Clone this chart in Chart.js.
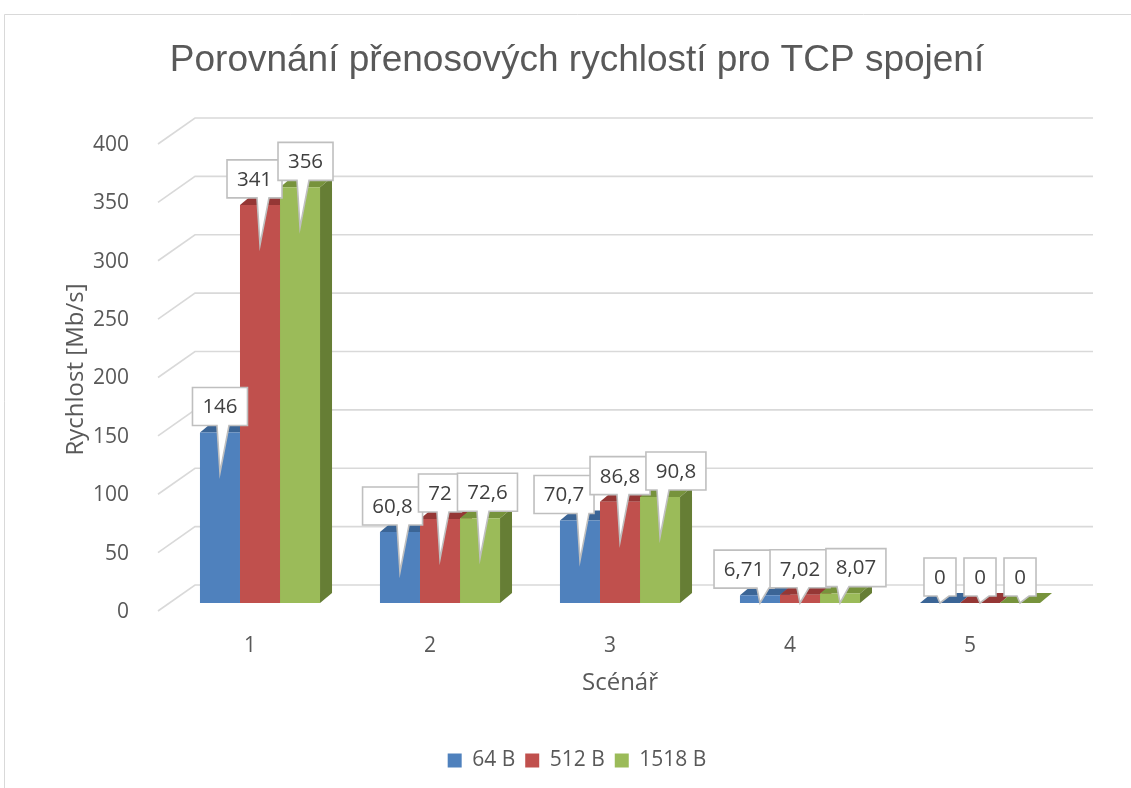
<!DOCTYPE html>
<html><head><meta charset="utf-8">
<script src="https://cdn.jsdelivr.net/npm/chart.js@4.4.1/dist/chart.umd.min.js"></script>
<style>
html,body{margin:0;padding:0;background:#fff;overflow:hidden;width:1131px;height:788px}
#wrap{position:absolute;left:4px;top:14px;width:1146px;height:774px}
</style></head><body>
<div id="wrap"><canvas id="c" width="1146" height="774"></canvas></div>
<script>
const categories = ['1', '2', '3', '4', '5'];
const seriesNames = ['64 B', '512 B', '1518 B'];
const values64 = [146, 60.8, 70.7, 6.71, 0];
const values512 = [341, 72, 86.8, 7.02, 0];
const values1518 = [356, 72.6, 90.8, 8.07, 0];
const yMin = 0, yMax = 400, yStep = 50;
const chartTitle = 'Porovnání přenosových rychlostí pro TCP spojení';
const xTitle = 'Scénář';
const yTitle = 'Rychlost [Mb/s]';

const TXT = '#595959';
const FONT = '"Open Sans", "DejaVu Sans", sans-serif';
const DX = 12, DY = 10;
const faces = [
  {front: '#4F81BD', top: '#3B6596', side: '#385D8A'},
  {front: '#C0504D', top: '#953735', side: '#8C3532'},
  {front: '#9BBB59', top: '#77933C', side: '#667E35'}
];
const fmt = v => String(v).replace('.', ',');

const borderPlugin = {
  id: 'frame',
  beforeDraw(chart) {
    const ctx = chart.ctx;
    ctx.save();
    ctx.fillStyle = '#fff';
    ctx.fillRect(0, 0, chart.width, chart.height);
    ctx.strokeStyle = '#D9D9D9';
    ctx.lineWidth = 1;
    ctx.beginPath();
    ctx.moveTo(0.5, chart.height);
    ctx.lineTo(0.5, 0.5);
    ctx.lineTo(chart.width, 0.5);
    ctx.stroke();
    ctx.restore();
  }
};

const threeD = {
  id: 'threeD',
  beforeDatasetsDraw(chart) {
    const ctx = chart.ctx, ys = chart.scales.y, a = chart.chartArea;
    ctx.save();
    ctx.strokeStyle = '#D9D9D9';
    ctx.lineWidth = 1.6;
    ys.ticks.forEach(t => {
      const py = ys.getPixelForValue(t.value);
      ctx.beginPath();
      ctx.moveTo(a.left - 12, py + 8);
      ctx.lineTo(a.left + 25, py - 18);
      ctx.lineTo(a.right + 23, py - 18);
      ctx.stroke();
    });
    const n = chart.data.labels.length;
    for (let i = 0; i < n; i++) {
      chart.data.datasets.forEach((ds, di) => {
        const el = chart.getDatasetMeta(di).data[i];
        const p = el.getProps(['x', 'y', 'base', 'width'], true);
        const l = p.x - p.width / 2, r = p.x + p.width / 2, top = p.y, base = p.base;
        ctx.fillStyle = faces[di].top;
        ctx.beginPath();
        ctx.moveTo(l, top); ctx.lineTo(l + DX, top - DY); ctx.lineTo(r + DX, top - DY); ctx.lineTo(r, top);
        ctx.closePath(); ctx.fill();
        ctx.fillStyle = faces[di].side;
        ctx.beginPath();
        ctx.moveTo(r, top); ctx.lineTo(r + DX, top - DY); ctx.lineTo(r + DX, base - DY); ctx.lineTo(r, base);
        ctx.closePath(); ctx.fill();
      });
    }
    ctx.restore();
  }
};

function drawCallout(ctx, b) {
  const bottom = b.y + b.h;
  const bx = Math.min(Math.max(b.tipX + 3, b.x + 9), b.x + b.w - 9);
  const hw = 6;
  ctx.fillStyle = '#fff';
  ctx.strokeStyle = '#BFBFBF';
  ctx.lineWidth = 1.6;
  ctx.lineJoin = 'miter';
  ctx.beginPath();
  ctx.moveTo(b.x, b.y);
  ctx.lineTo(b.x + b.w, b.y);
  ctx.lineTo(b.x + b.w, bottom);
  ctx.lineTo(bx + hw, bottom);
  ctx.lineTo(b.tipX, b.tipY);
  ctx.lineTo(bx - hw, bottom);
  ctx.lineTo(b.x, bottom);
  ctx.closePath();
  ctx.fill();
  ctx.stroke();
  ctx.fillStyle = '#404040';
  ctx.textAlign = 'center';
  ctx.textBaseline = 'middle';
  ctx.fillText(b.text, b.x + b.w / 2, b.y + b.h / 2 + 1);
}

const callouts = {
  id: 'callouts',
  afterDatasetsDraw(chart) {
    const ctx = chart.ctx;
    ctx.save();
    ctx.font = '20.5px ' + FONT;
    const n = chart.data.labels.length;
    for (let i = 0; i < n; i++) {
      const boxes = [];
      chart.data.datasets.forEach((ds, di) => {
        const el = chart.getDatasetMeta(di).data[i];
        const text = fmt(ds.data[i]);
        const w = Math.round(ctx.measureText(text).width + 20), h = 38;
        const bottom = el.y - 7;
        boxes.push({x: el.x - w / 2, y: bottom - h, w, h, text, tipX: el.x, tipY: Math.min(el.y + 40, el.base)});
      });
      for (let it = 0; it < 30; it++) {
        for (let k = 1; k < boxes.length; k++) {
          const a = boxes[k - 1], b = boxes[k];
          const vOv = a.y < b.y + b.h && b.y < a.y + a.h;
          const ov = a.x + a.w - b.x - 4;
          if (vOv && ov > 0.1) { a.x -= ov / 2; b.x += ov / 2; }
        }
      }
      boxes.forEach(b => drawCallout(ctx, b));
    }
    ctx.restore();
  }
};

new Chart(document.getElementById('c'), {
  type: 'bar',
  data: {
    labels: categories,
    datasets: [
      {label: seriesNames[0], data: values64, backgroundColor: faces[0].front},
      {label: seriesNames[1], data: values512, backgroundColor: faces[1].front},
      {label: seriesNames[2], data: values1518, backgroundColor: faces[2].front}
    ]
  },
  options: {
    responsive: false,
    animation: false,
    devicePixelRatio: 1,
    layout: {padding: {left: 0, right: 0, top: 0, bottom: 7}},
    datasets: {bar: {categoryPercentage: 0.667, barPercentage: 1, borderWidth: 0}},
    plugins: {
      title: {
        display: true, text: chartTitle, color: TXT,
        font: {family: '"Liberation Sans Narrow", "Arial Narrow", "Liberation Sans", sans-serif', size: 37, weight: 'normal'},
        padding: {top: 25, bottom: 52.6}
      },
      legend: {
        position: 'bottom',
        labels: {boxWidth: 14, boxHeight: 14, padding: 10, color: TXT, font: {family: FONT, size: 21}}
      },
      tooltip: {enabled: false}
    },
    scales: {
      x: {
        grid: {display: false}, border: {display: false},
        ticks: {color: TXT, font: {family: FONT, size: 21}, padding: 22, labelOffset: -10},
        title: {display: true, text: xTitle, color: TXT, font: {family: FONT, size: 24}, padding: {top: 0, bottom: 42}},
        afterFit(s) { s.height = 137; }
      },
      y: {
        min: yMin, max: yMax,
        grid: {display: false}, border: {display: false},
        ticks: {stepSize: yStep, color: TXT, font: {family: FONT, size: 21}, padding: 33, labelOffset: 9},
        title: {display: true, text: yTitle, color: TXT, font: {family: FONT, size: 24}, padding: {top: 58, bottom: 0}},
        afterFit(s) { s.width = 166; }
      },
      y2: {
        position: 'right', display: true,
        grid: {display: false}, border: {display: false}, ticks: {display: false},
        afterFit(s) { s.width = 80; }
      }
    }
  },
  plugins: [borderPlugin, threeD, callouts]
});
</script>
</body></html>
